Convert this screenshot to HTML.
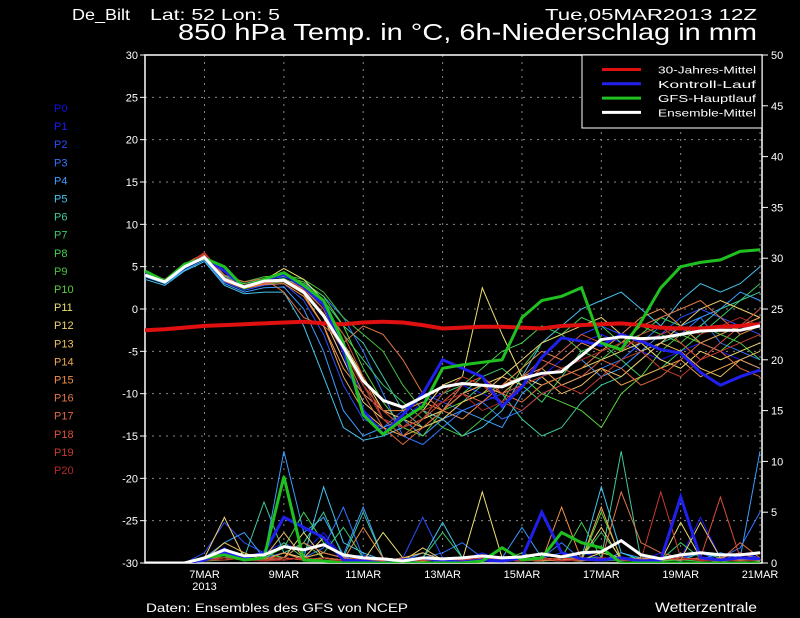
<!DOCTYPE html>
<html><head><meta charset="utf-8"><style>
html,body{margin:0;padding:0;background:#000;}
svg{display:block;}
text{font-family:"Liberation Sans",sans-serif;}
</style></head><body>
<svg id="chart" width="800" height="618" viewBox="0 0 800 618">
<text x="72" y="20" fill="#fff" font-size="16" textLength="58" lengthAdjust="spacingAndGlyphs">De_Bilt</text>
<text x="150" y="20" fill="#fff" font-size="16" textLength="130" lengthAdjust="spacingAndGlyphs">Lat: 52 Lon: 5</text>
<text x="545" y="20" fill="#fff" font-size="16" textLength="212" lengthAdjust="spacingAndGlyphs">Tue,05MAR2013 12Z</text>
<text x="178" y="40" fill="#fff" font-size="23" textLength="579" lengthAdjust="spacingAndGlyphs">850 hPa Temp. in °C, 6h-Niederschlag in mm</text>
<text x="146" y="612" fill="#fff" font-size="12" textLength="262" lengthAdjust="spacingAndGlyphs">Daten: Ensembles des GFS von NCEP</text>
<text x="655" y="612" fill="#fff" font-size="14" textLength="102" lengthAdjust="spacingAndGlyphs">Wetterzentrale</text>
<defs><clipPath id="plotclip"><rect x="145" y="55" width="617" height="508"/></clipPath></defs>
<g id="grid"></g>
<g id="axes"></g>
<g id="series" clip-path="url(#plotclip)"></g>
<g id="members-legend"></g>
<g id="legend"></g>
</svg>
<script>
// ---- data (12h steps starting 5MAR 12Z) ----
const dayLabels = ["7MAR","9MAR","11MAR","13MAR","15MAR","17MAR","19MAR","21MAR"];
const dayOffsets = [1.5,3.5,5.5,7.5,9.5,11.5,13.5,15.5];
const tempTicks = [-30,-25,-20,-15,-10,-5,0,5,10,15,20,25,30];
const precTicks = [0,5,10,15,20,25,30,35,40,45,50];
const climo = [-2.5,-2.4,-2.2,-2.0,-1.9,-1.8,-1.7,-1.6,-1.5,-1.7,-1.8,-1.6,-1.5,-1.6,-1.9,-2.3,-2.2,-2.1,-2.1,-2.2,-2.3,-2.0,-1.9,-1.8,-1.7,-1.9,-2.2,-2.3,-2.3,-2.1,-2.0,-1.8];
const meanT = [4.0,3.2,5.0,6.1,3.5,2.6,3.3,3.4,2.0,-0.8,-4.5,-8.5,-10.8,-11.6,-10.4,-9.2,-8.8,-9.0,-9.2,-8.2,-7.6,-7.4,-5.5,-3.6,-3.3,-3.5,-3.4,-3.0,-2.6,-2.5,-2.5,-2.0];
const gfsT = [4.5,3.3,5.3,6.0,5.0,2.5,3.5,4.3,2.8,1.0,-4,-12.5,-14.8,-13,-11.5,-7,-6.6,-6.3,-6,-1,1,1.5,2.5,-4,-4.8,-1.5,2.5,5,5.5,5.8,6.8,7];
const ctrlT = [4.3,3.2,5.1,6.1,4.5,2.6,3.4,4.1,2.6,0.5,-5,-12,-14.8,-12.5,-10,-6,-7,-8,-11.5,-9.2,-5.7,-3.4,-3.8,-4.3,-3,-3.8,-4.8,-5.2,-7.5,-9,-8,-7.2];
const memT = [
[4,3.2,5,6.3,3.5,2.5,3,3.5,2.5,-1,-6,-10,-12,-13,-11,-10,-9,-10,-11,-9,-8,-6,-4,-3,-4,-5,-6,-5,-4,-5,-6,-7],
[4,3,4.8,6,3.2,2.2,2.8,3,1,-3,-9,-13,-14,-12,-10,-11,-12,-11,-10,-9,-7,-5,-3,-2,-3,-4,-3,-1,0,-1,-2,-3],
[4.2,3.3,5.2,6.2,3.8,3,3.5,3.8,3,1.5,-1,-5,-10,-15,-16,-14,-12,-11,-13,-12,-10,-9,-8,-7,-6,-4,-2,-3,-1,-4,-5,-6],
[3.8,3,4.6,5.8,3,2,2.5,2.6,0,-5,-12,-15,-14,-13,-15,-13,-12,-13,-14,-10,-8,-7,-6,-8,-7,-5,-3,-2,-1,0,2,1],
[3.5,2.8,4.5,5.6,2.8,1.8,2,2,-2,-8,-14,-15.5,-15,-14,-12,-13,-15,-14,-12,-8,-4,-2,0,1,2,0,-2,1,3,2,3,5],
[4,3.2,5,6,3.4,2.6,3.2,3.5,2.8,1,-2,-4,-8,-12,-14,-13,-11,-9,-10,-13,-15,-14,-11,-9,-8,-6,-4,-3,-2,0,1,2],
[4.1,3.4,5.1,6.1,3.6,2.8,3.3,3.6,2.5,0,-3,-6,-9,-11,-13,-12,-10,-8,-7,-9,-11,-8,-5,-4,-6,-8,-7,-5,-3,-1,1,3],
[4,3.1,5,6.2,3.5,2.7,3,3.2,2.2,-0.5,-5,-9,-13,-15,-13,-10,-9,-7,-5,-4,-2,-3,-1,-2,-4,-3,-1,-2,-4,-3,-4,-6],
[4.2,3.4,5.2,6.4,3.9,3.2,3.8,4,3.5,2,-1,-3,-5,-9,-12,-14,-15,-13,-11,-7,-4,-3,-5,-6,-4,-2,-3,-4,-2,-3,-2,-1],
[4,3.3,5.1,6.3,3.7,3,3.5,3.9,3.2,1.5,-2,-7,-11,-14,-15,-12,-11,-10,-9,-8,-10,-11,-12,-14,-10,-8,-5,-3,-4,-5,-3,-2],
[4.1,3.2,5,6.2,3.6,2.8,3.4,4.8,3.5,1,-4,-8,-12,-14,-12,-9,-8,2.5,-3,-8,-9,-8,-7,-6,-5,-4,-6,-7,-5,-6,-5,-4],
[4,3.1,4.9,6.1,3.4,2.5,3,3.4,2,-1,-6,-11,-13,-14,-13,-12,-10,-9,-8,-6,-4,-3,-2,-1,-3,-5,-4,-2,0,1,0,-1],
[4,3.2,5,6.3,3.5,2.6,3.1,3.3,2.4,0,-5,-9,-12,-13,-14,-13,-11,-10,-8,-9,-8,-10,-9,-7,-8,-6,-4,-5,-7,-8,-6,-5],
[4.1,3.3,5.1,6.4,3.6,2.7,3.2,3.2,1.8,-2,-8,-12,-14,-15,-14,-12,-10,-9,-10,-8,-7,-9,-8,-7,-9,-8,-7,-6,-8,-7,-6,-7],
[4,3.1,4.9,6.2,3.3,2.4,2.9,3,1.5,-2,-7,-10,-12,-12,-11,-12,-13,-11,-9,-7,-5,-6,-4,-5,-3,-1,0,-2,-4,-3,-2,-1],
[4.2,3.5,5.3,6.6,4,3.2,3.6,2,-1,-2,-4,-2,-3,-6,-10,-12,-9,-8,-10,-11,-9,-8,-7,-5,-4,-2,-1,0,1,-1,-3,-2],
[4,3.2,5,6.5,3.5,2.5,3,3.4,2.2,-1,-5,-10,-14,-16,-14,-12,-10,-11,-9,-8,-6,-7,-8,-6,-7,-9,-8,-6,-4,-5,-7,-8],
[4.1,3.3,5.1,6.6,3.7,2.8,3.3,3.5,2.5,0.5,-3,-8,-13,-15,-13,-11,-9,-8,-10,-9,-7,-5,-3,-4,-5,-3,-2,-4,-6,-4,-2,0],
[4,3.2,5,6.7,3.6,2.6,3.2,3.4,2.3,0,-4,-9,-12,-14,-13,-10,-8,-9,-11,-12,-10,-9,-10,-8,-6,-5,-7,-8,-6,-5,-4,-3],
[4.1,3.3,5.1,6.5,3.5,2.7,3.1,3.3,2.1,-0.5,-5,-9,-13,-14,-12,-11,-10,-12,-11,-9,-8,-7,-6,-5,-4,-4,-3,-2,-3,-2,-1,-2]
];
const meanP = [0,0,0,0.5,1.3,0.7,0.8,1.6,1.3,1.8,0.8,0.5,0.4,0.2,0.5,0.4,0.5,0.7,0.5,0.6,0.9,0.6,1.0,1.1,2.2,0.8,0.4,0.8,1.0,0.8,0.8,1.0];
const gfsP = [0,0,0,0.5,0.8,0.3,0.5,8.5,0.3,0.2,0,0,0,0,0,0,0,0.2,1.5,0.3,0.5,3,2,1.5,0,0,0,0,0,0,0,0];
const ctrlP = [0,0,0,0.3,1,0.5,1,4.5,3.5,2.5,0.3,0.2,0,0.3,0.5,0.2,0.1,0.3,0.2,0.5,5,1,0.4,0.3,0.5,0.2,0.3,6.5,0.5,0.3,0.5,0.4];
const memP = [
[0,0,0,0.5,1.5,0.5,1,2,1,3,0.5,0.2,0.5,0,0.3,0.5,0.3,1,0.2,0.5,0.4,0.3,1,0.5,0.4,0.2,1,0.5,4.5,0.5,0.4,1],
[0,0,0,1,4,2,1,0.5,2,1,0.5,0.8,0.2,0.5,4.5,0.5,0.2,0.5,0.2,0.3,0.5,1,0.3,0.2,0.5,0.4,0.3,0.5,1,0.2,1,0.5],
[0,0,0,0.3,1,0.5,0.5,1,0.5,1.5,5.5,0.5,0.3,0.2,0.5,1,2,0.5,0.2,0.3,0.5,2,0.3,0.5,0.2,0.5,0.5,0.3,1,0.5,1.5,5],
[0,0,0,0.5,2,3,0.5,11,3,4.5,0.8,5.5,0.5,0.2,1,0.3,0.5,0.3,0.5,3.5,0.5,0.3,0.5,0.2,1,0.5,0.3,0.5,0.3,1,0.5,11],
[0,0,0,0.2,1,0.3,0.5,3,0.5,7.5,2,1,0.3,0.2,0.5,4,0.5,0.2,0.3,0.5,0.3,0.2,0.5,7.5,1,0.3,0.2,0.5,0.3,0.2,0.5,0.3],
[0,0,0,0.5,1,0.5,6,1,2,5,0.5,5,0.5,0.3,0.3,0.5,0.3,0.2,0.5,0.3,0.5,0.3,0.5,0.5,11,0.3,0.5,0.2,1,0.5,0.3,0.5],
[0,0,0,0.3,0.5,1,0.3,2,0.5,1,3.5,0.5,0.3,0.2,0.5,3,0.5,0.3,0.5,0.3,0.2,0.5,0.5,3,0.5,0.5,0.3,2,0.5,0.3,0.5,0.3],
[0,0,0,0.5,0.5,0.3,0.5,1.5,5,2,0.5,0.3,0.2,0.5,0.3,0.2,0.5,0.3,0.2,1,0.3,0.5,4,0.5,0.3,0.2,0.5,0.3,0.2,0.5,0.2,0.3],
[0,0,0,0.2,0.3,0.5,0.2,0.5,0.3,0.5,0.2,0.3,0.2,0.5,0.3,0.2,0.3,0.2,0.5,0.3,0.2,0.3,0.5,0.2,0.3,0.5,0.2,0.3,0.5,0.2,0.3,0.2],
[0,0,0,0.5,0.8,0.5,1,0.5,2,0.5,0.3,0.2,0.5,0.3,0.2,0.3,0.5,0.2,0.3,0.2,0.5,0.3,0.2,5,0.5,0.3,0.2,0.5,0.3,0.2,0.5,0.3],
[0,0,0,0.3,1,0.5,0.3,0.5,3,0.5,0.3,0.2,3,0.5,0.3,0.2,0.3,7,0.5,0.3,0.2,0.5,0.3,1,0.5,0.3,0.2,4,0.5,0.3,0.5,0.2],
[0,0,0,0.5,4.5,0.5,0.3,1,0.5,2.5,0.5,0.2,0.3,0.2,1.5,0.3,0.2,0.5,0.3,0.2,0.5,0.3,0.5,3.5,0.3,0.2,0.5,0.3,4,0.5,0.3,0.5],
[0,0,0,0.3,2,1,0.3,0.5,0.3,0.5,0.3,0.5,0.2,0.5,1,0.3,0.2,0.3,0.2,0.3,0.5,0.3,0.2,0.5,0.3,0.2,0.3,0.5,0.3,0.2,0.5,0.3],
[0,0,0,0.5,1,0.3,0.5,3,0.5,1,0.5,0.3,0.5,0.2,0.5,0.3,0.2,0.5,0.3,0.5,1,0.5,0.3,5.5,0.3,0.2,0.5,0.3,0.5,0.2,0.3,0.5],
[0,0,0,0.3,0.5,0.5,0.3,1,0.3,0.5,0.3,3.5,0.5,0.3,0.2,0.5,0.3,0.2,0.5,0.3,0.2,5.5,0.3,0.5,0.3,0.5,0.3,0.5,0.3,0.2,0.5,0.3],
[0,0,0,0.5,1,0.5,0.3,0.5,2,1,0.5,0.3,0.2,0.5,0.3,0.2,0.5,0.3,0.2,0.5,0.3,0.2,0.5,0.3,7,2,1,0.5,0.3,0.5,1,0.3],
[0,0,0,0.3,0.5,0.3,0.5,0.3,0.5,0.3,0.2,0.5,0.3,0.2,0.5,0.3,0.2,0.5,0.3,0.2,0.5,0.3,0.5,0.3,0.5,0.3,0.5,0.3,0.5,0.3,2,0.5],
[0,0,0,0.5,0.5,0.3,0.5,0.5,0.3,0.5,0.3,0.5,0.2,0.3,0.5,0.2,0.3,0.5,0.3,0.5,0.3,0.5,0.3,0.5,0.3,0.2,0.5,0.3,0.5,6.5,0.5,0.3],
[0,0,0,0.3,0.3,0.5,0.3,0.5,0.3,0.2,0.3,0.5,0.3,0.2,0.3,0.5,0.2,0.3,0.5,0.2,0.3,0.5,0.3,0.2,0.5,0.3,7,0.5,0.3,0.2,0.5,0.3],
[0,0,0,0.2,0.5,0.3,0.2,0.3,0.5,0.3,0.2,0.3,0.5,0.2,0.3,0.2,0.5,0.3,0.2,0.3,0.5,0.2,0.3,0.5,0.3,0.2,0.3,0.5,0.2,0.3,0.2,0.3]
];
const memColors = ["#1a1aff","#2a4cff","#2f74ff","#3c9cff","#44c4ee","#3fc8a0","#3cc86a","#40d050","#48c040","#5ad03c","#ece070","#f0d070","#f0c060","#f0a850","#f09048","#e07848","#e06840","#d85038","#c83c30","#b02a28"];
const memNames = ["P1","P2","P3","P4","P5","P6","P7","P8","P9","P10","P11","P12","P13","P14","P15","P16","P17","P18","P19","P20"];
const legendNames = ["30-Jahres-Mittel","Kontroll-Lauf","GFS-Hauptlauf","Ensemble-Mittel"];
const legendColors = ["#e01010","#2020ee","#20c020","#ffffff"];

// ---- scales ----
const X0=145, X1=762, Y0=55, Y1=563, PXDAY=39.68;
function xs(i){return X0 + i*0.5*PXDAY;}
function xd(d){return X0 + d*PXDAY;}
function yT(v){return 309 - v*(254/30);}
function yP(v){return Y1 - v*(508/50);}
const NS="http://www.w3.org/2000/svg";
function mk(tag,attrs,parent){const e=document.createElementNS(NS,tag);for(const k in attrs)e.setAttribute(k,attrs[k]);parent.appendChild(e);return e;}
function pts(arr,f){return arr.map((v,i)=>xs(i).toFixed(1)+","+f(v).toFixed(1)).join(" ");}

const grid=document.getElementById("grid"), axes=document.getElementById("axes"), series=document.getElementById("series");
tempTicks.forEach(t=>{ if(t>-30&&t<30){ const l=mk("line",{x1:X0,x2:X1,y1:yT(t),y2:yT(t),stroke:"#888","stroke-width":1,"stroke-dasharray":"2,5"},grid);
 }});
dayOffsets.forEach(d=>{ const l=mk("line",{x1:xd(d),x2:xd(d),y1:Y0,y2:Y1,stroke:"#888","stroke-width":1,"stroke-dasharray":"2,5"},grid);
 });
const fr=mk("rect",{x:X0,y:Y0,width:X1-X0,height:Y1-Y0,fill:"none",stroke:"#fff","stroke-width":1.5},axes);
 
tempTicks.forEach(t=>{ const y=yT(t);
 const tk=mk("line",{x1:X0-5,x2:X0,y1:y,y2:y,stroke:"#fff"},axes);
  
 const tx=mk("text",{x:X0-7,y:y+4,fill:"#fff","font-size":11,"text-anchor":"end"},axes); tx.textContent=t;
  });
precTicks.forEach(p=>{ const y=yP(p);
 const tk=mk("line",{x1:X1,x2:X1+6,y1:y,y2:y,stroke:"#fff"},axes);
  
 const tx=mk("text",{x:X1+9,y:y+4,fill:"#fff","font-size":11},axes); tx.textContent=p;
  });
dayLabels.forEach((lab,i)=>{ const x=xd(dayOffsets[i]);
 const tx=mk("text",{x:x,y:578,fill:"#fff","font-size":11,"text-anchor":"middle"},axes); tx.textContent=lab;
  });
const yr=mk("text",{x:xd(1.5),y:590,fill:"#fff","font-size":11,"text-anchor":"middle"},axes); yr.textContent="2013";
 

memT.forEach((arr,k)=>{
 const p=mk("polyline",{points:pts(arr,yT),fill:"none",stroke:memColors[k],"stroke-width":1},series);
 
 
});
memP.forEach((arr,k)=>{
 const p=mk("polyline",{points:pts(arr,yP),fill:"none",stroke:memColors[k],"stroke-width":1},series);
 
 
});
let e;
e=mk("polyline",{points:pts(climo,yT),fill:"none",stroke:"#e01010","stroke-width":4},series);
 
e=mk("polyline",{points:pts(ctrlP,yP),fill:"none",stroke:"#2020ee","stroke-width":3},series);
 
e=mk("polyline",{points:pts(gfsP,yP),fill:"none",stroke:"#20c020","stroke-width":3},series);
 
e=mk("polyline",{points:pts(meanP,yP),fill:"none",stroke:"#fff","stroke-width":3},series);
 
e=mk("polyline",{points:pts(ctrlT,yT),fill:"none",stroke:"#2020ee","stroke-width":3},series);
 
e=mk("polyline",{points:pts(gfsT,yT),fill:"none",stroke:"#20c020","stroke-width":3},series);
 
e=mk("polyline",{points:pts(meanT,yT),fill:"none",stroke:"#fff","stroke-width":3},series);
 

const ml=document.getElementById("members-legend");
const allNames=["P0"].concat(memNames), allCols=["#1010e0"].concat(memColors);
allNames.forEach((n,i)=>{
 const t=mk("text",{x:54,y:112+i*18.1,fill:allCols[i],"font-size":11},ml); t.textContent=n;
  
});
const lg=document.getElementById("legend");
const box=mk("rect",{x:582,y:55,width:180,height:73,fill:"#000",stroke:"#fff","stroke-width":1},lg);
 
legendNames.forEach((n,i)=>{
 const y=69.5+i*14.3;
 const l=mk("line",{x1:602,x2:641,y1:y,y2:y,stroke:legendColors[i],"stroke-width":3},lg);
  
 const t=mk("text",{x:658,y:y+4,fill:"#fff","font-size":10.5,textLength:98,lengthAdjust:"spacingAndGlyphs"},lg); t.textContent=n;
  
});
</script>
</body></html>
